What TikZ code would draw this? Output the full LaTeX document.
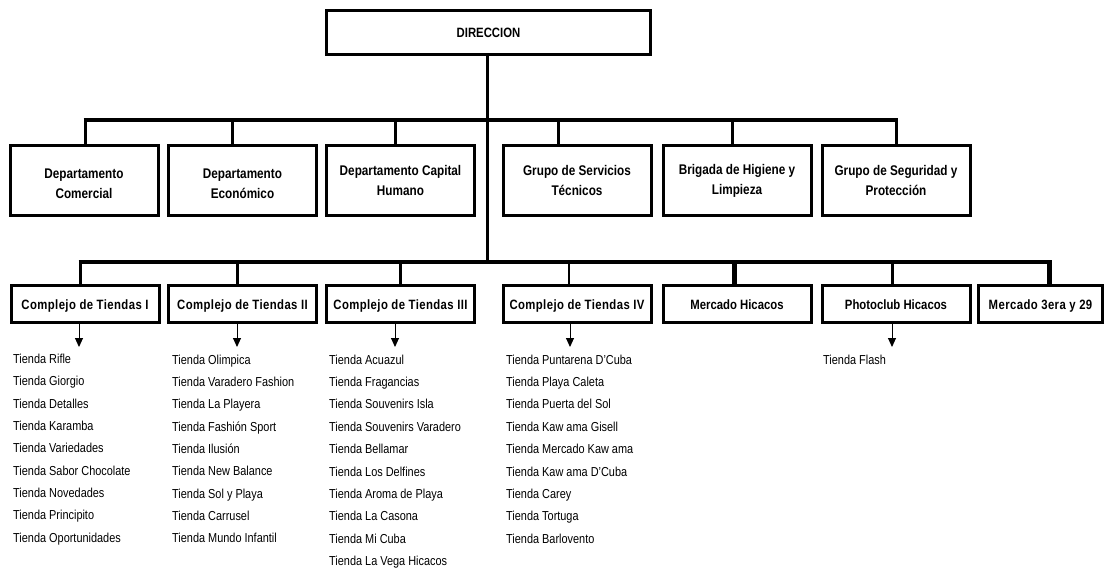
\documentclass[tikz,border=0pt]{standalone}
\usepackage{fontspec}
\setmainfont{Liberation Sans}[FakeStretch=0.84]
\usetikzlibrary{arrows.meta}
\begin{document}
\begin{tikzpicture}[x=1pt,y=-1pt,
  box/.style={draw, line width=3pt, inner sep=0pt, align=center,
    font=\bfseries\fontsize{14}{20}\selectfont},
  dept/.style={box, minimum width=148pt, minimum height=70pt},
  cplx/.style={box, minimum width=148pt, minimum height=37pt, text height=15.5pt, text depth=3pt,
    font=\bfseries\fontsize{13.5}{16}\selectfont},
  cplxs/.style={cplx, font=\bfseries\fontsize{13.5}{16}\selectfont\addfontfeature{LetterSpace=3}},
  bar/.style={line width=4pt},
  drop/.style={line width=3pt},
  thindrop/.style={line width=2pt},
  thickdrop/.style={line width=5pt},
  arr/.style={line width=1pt, -{Triangle[width=8pt,length=9pt]}},
  item/.style={anchor=base west, inner sep=0pt, font=\fontsize{13}{15}\selectfont}]
\useasboundingbox (0,0) rectangle (1105,569);

% top
\node[box, minimum width=324pt, minimum height=44pt, text height=14pt, text depth=3pt,
  font=\bfseries\fontsize{13.5}{16}\selectfont] (dir) at (488.5,32.5) {DIRECCION};

% departments
\node[dept] (d1) at (84,180.5) {\rule{0pt}{16pt}Departamento\\Comercial};
\node[dept] (d2) at (242.5,180.5) {\rule{0pt}{16pt}Departamento\\Económico};
\node[dept] (d3) at (400.5,180.5) {Departamento Capital\\Humano};
\node[dept] (d4) at (577,180.5) {Grupo de Servicios\\Técnicos};
\node[dept] (d5) at (737,180.5) {Brigada de Higiene y\\Limpieza};
\node[dept] (d6) at (896,180.5) {Grupo de Seguridad y\\Protección};

% complexes
\node[cplxs] (c1) at (85,303.5) {Complejo de Tiendas I};
\node[cplxs] (c2) at (242.5,303.5) {Complejo de Tiendas II};
\node[cplxs] (c3) at (400.5,303.5) {Complejo de Tiendas III};
\node[cplxs] (c4) at (577,303.5) {Complejo de Tiendas IV};
\node[cplx] (c5) at (737,303.5) {Mercado Hicacos};
\node[cplx] (c6) at (896,303.5) {Photoclub Hicacos};
\node[cplxs, minimum width=124pt] (c7) at (1040.5,303.5) {Mercado 3era y 29};

% bar coordinates
\coordinate (t1) at (85,120);
\coordinate (t2) at (232,120);
\coordinate (t3) at (395,120);
\coordinate (t4) at (558,120);
\coordinate (t5) at (732,120);
\coordinate (t6) at (896,120);
\coordinate (tl) at (83.5,120);
\coordinate (tr) at (897.5,120);
\coordinate (mv) at (487,262);

\coordinate (b1) at (80,262);
\coordinate (b2) at (237,262);
\coordinate (b3) at (400,262);
\coordinate (b4) at (569,262);
\coordinate (b5) at (734,262);
\coordinate (b6) at (892,262);
\coordinate (b7) at (1049,262);
\coordinate (bl) at (78.5,262);
\coordinate (br) at (1051.5,262);

% bars
\draw[bar] (tl) -- (tr);
\draw[bar] (bl) -- (br);
\draw[drop] (dir.south -| mv) -- (mv);

% department drops
\foreach \i in {1,...,6} { \draw[drop] (t\i) -- (d\i.north -| t\i); }

% complex drops
\draw[drop] (b1) -- (c1.north -| b1);
\draw[drop] (b2) -- (c2.north -| b2);
\draw[drop] (b3) -- (c3.north -| b3);
\draw[thindrop] (b4) -- (c4.north -| b4);
\draw[thickdrop] (b5) -- (c5.north -| b5);
\draw[drop] (b6) -- (c6.north -| b6);
\draw[thickdrop] (b7) -- (c7.north -| b7);

% arrows
\coordinate (a1) at (79,347);
\coordinate (a2) at (237,347);
\coordinate (a3) at (395,347);
\coordinate (a4) at (570,347);
\coordinate (a6) at (892,347);
\draw[arr] (c1.south -| a1) -- (a1);
\draw[arr] (c2.south -| a2) -- (a2);
\draw[arr] (c3.south -| a3) -- (a3);
\draw[arr] (c4.south -| a4) -- (a4);
\draw[arr] (c6.south -| a6) -- (a6);

% lists
\foreach \t [count=\i] in {Tienda Rifle, Tienda Giorgio, Tienda Detalles, Tienda Karamba, Tienda Variedades, Tienda Sabor Chocolate, Tienda Novedades, Tienda Principito, Tienda Oportunidades}
  { \node[item] (la\i) at (13,{363.5+22.35*(\i-1)}) {\t}; }
\foreach \t [count=\i] in {Tienda Olimpica, Tienda Varadero Fashion, Tienda La Playera, Tienda Fashión Sport, Tienda Ilusión, Tienda New Balance, Tienda Sol y Playa, Tienda Carrusel, Tienda Mundo Infantil}
  { \node[item] (lb\i) at (172,{364+22.35*(\i-1)}) {\t}; }
\foreach \t [count=\i] in {Tienda Acuazul, Tienda Fragancias, Tienda Souvenirs Isla, Tienda Souvenirs Varadero, Tienda Bellamar, Tienda Los Delfines, Tienda Aroma de Playa, Tienda La Casona, Tienda Mi Cuba, Tienda La Vega Hicacos}
  { \node[item] (lc\i) at (329,{364+22.4*(\i-1)}) {\t}; }
\foreach \t [count=\i] in {Tienda Puntarena D'Cuba, Tienda Playa Caleta, Tienda Puerta del Sol, Tienda Kaw ama Gisell, Tienda Mercado Kaw ama, Tienda Kaw ama D'Cuba, Tienda Carey, Tienda Tortuga, Tienda Barlovento}
  { \node[item] (ld\i) at (506,{364+22.4*(\i-1)}) {\t}; }
\node[item] (lf1) at (823,364) {Tienda Flash};
\end{tikzpicture}
\end{document}
